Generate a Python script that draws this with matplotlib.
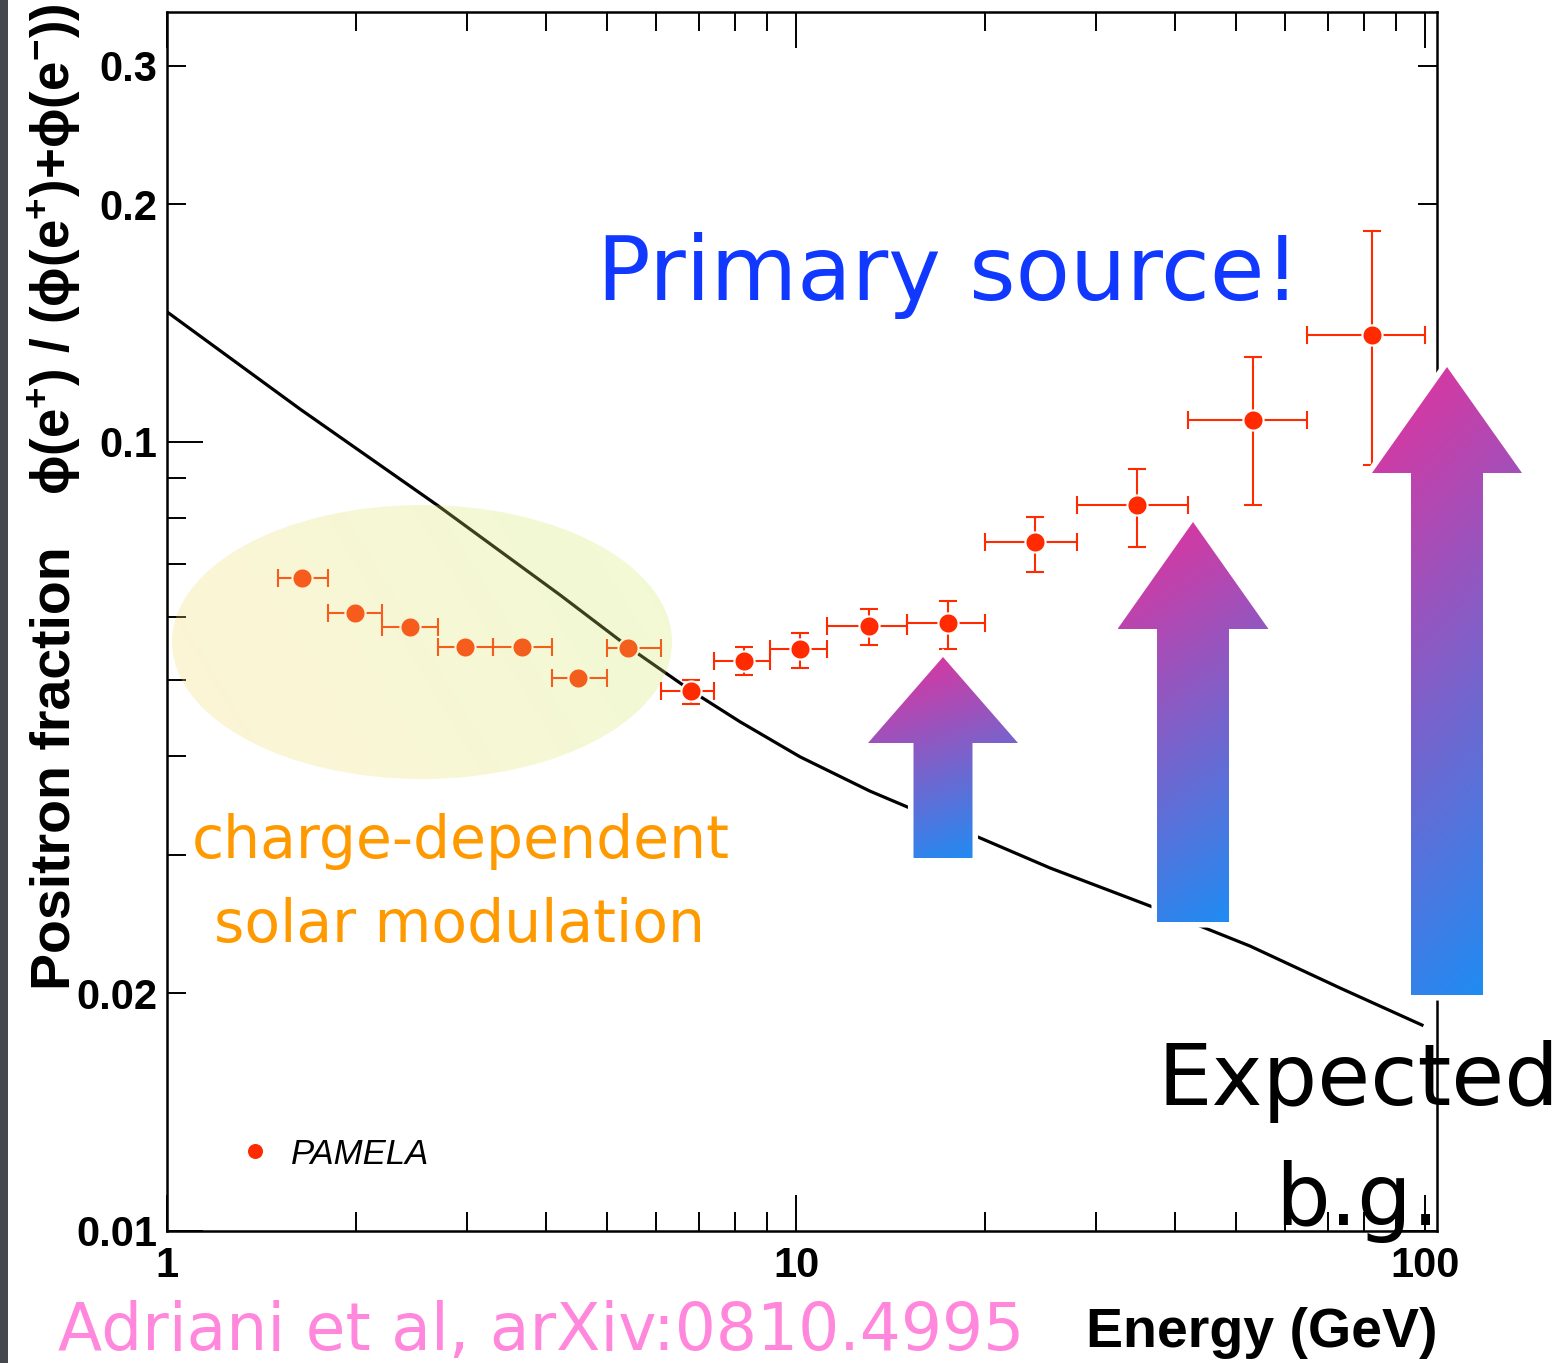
import numpy as np
import matplotlib
matplotlib.use("Agg")
import matplotlib.pyplot as plt
from matplotlib.patches import Ellipse, Polygon, Rectangle
from matplotlib.ticker import FixedLocator, FixedFormatter

# ---------------- data ----------------
energy = [1.64, 1.99, 2.43, 2.98, 3.67, 4.50, 5.41, 6.81, 8.27, 10.15,
          13.07, 17.44, 23.99, 34.85, 53.3, 82.4]
e_low = [1.5, 1.8, 2.2, 2.7, 3.3, 4.1, 5.0, 6.1, 7.4, 9.1,
         11.2, 15.0, 20.0, 28.0, 42.0, 65.0]
e_high = [1.8, 2.2, 2.7, 3.3, 4.1, 5.0, 6.1, 7.4, 9.1, 11.2,
          15.0, 20.0, 28.0, 42.0, 65.0, 100.0]
fraction = [0.0672, 0.0607, 0.0583, 0.0550, 0.0550, 0.0502, 0.0548, 0.0484,
            0.0528, 0.0547, 0.0584, 0.0590, 0.0747, 0.0832, 0.1066, 0.1367]
frac_low = [0.0668, 0.0603, 0.0579, 0.0546, 0.0546, 0.0498, 0.0544, 0.0466,
            0.0507, 0.0517, 0.0553, 0.0547, 0.0684, 0.0736, 0.0832, 0.0935]
frac_high = [0.0676, 0.0611, 0.0587, 0.0554, 0.0554, 0.0506, 0.0552, 0.0499,
             0.0550, 0.0573, 0.0614, 0.0629, 0.0803, 0.0924, 0.1282, 0.1851]

bg_energy = [1.0, 1.627, 2.687, 4.215, 5.446, 6.81, 8.147, 10.15, 13.11,
             17.57, 25.34, 36.54, 52.7, 73.3, 98.9]
bg_fraction = [0.1462, 0.1101, 0.0832, 0.0640, 0.0548, 0.0484, 0.0442,
               0.0399, 0.0361, 0.0327, 0.02885, 0.02582, 0.02297, 0.02032,
               0.01824]

x_major = [1, 10, 100]
x_major_labels = ["1", "10", "100"]
x_minor = [2, 3, 4, 5, 6, 7, 8, 9, 20, 30, 40, 50, 60, 70, 80, 90]
y_major = [0.01, 0.1]
y_major_labels = ["0.01", "0.1"]
y_minor = [0.02, 0.03, 0.04, 0.05, 0.06, 0.07, 0.08, 0.09, 0.2, 0.3]
y_minor_labels = ["0.02", "", "", "", "", "", "", "", "0.2", "0.3"]

# ---------------- figure ----------------
W, H, DPI = 1566, 1363, 100
plt.rcParams["font.family"] = ["Liberation Sans", "DejaVu Sans"]
plt.rcParams["font.weight"] = "bold"
plt.rcParams["mathtext.default"] = "regular"

fig = plt.figure(figsize=(W / DPI, H / DPI), dpi=DPI)
fig.patch.set_facecolor("white")

L, R, T, B = 167, 1437, 12, 1231
ax = fig.add_axes([L / W, 1 - B / H, (R - L) / W, (B - T) / H])
ax.set_xscale("log")
ax.set_yscale("log")
ax.set_xlim(1, 10 ** ((R - L) / 629))
ax.set_ylim(0.01, 10 ** (-2 + (B - T) / 789))

red = "#ff2a00"
xerr = [np.array(energy) - np.array(e_low), np.array(e_high) - np.array(energy)]
yerr = [np.array(fraction) - np.array(frac_low), np.array(frac_high) - np.array(fraction)]
ax.plot(bg_energy, bg_fraction, color="black", lw=2.3, zorder=2,
        solid_joinstyle="round")
ax.errorbar(energy, fraction, xerr=xerr, yerr=yerr, fmt="none", ecolor=red,
            elinewidth=1.5, capsize=6.5, capthick=1.5, zorder=3)
ax.plot(energy, fraction, "o", ms=14.5, mfc=red, mec="white", mew=1.5,
        ls="none", label="PAMELA", zorder=4)

ax.xaxis.set_major_locator(FixedLocator(x_major))
ax.xaxis.set_major_formatter(FixedFormatter(x_major_labels))
ax.xaxis.set_minor_locator(FixedLocator(x_minor))
ax.xaxis.set_minor_formatter(FixedFormatter([""] * len(x_minor)))
ax.yaxis.set_major_locator(FixedLocator(y_major))
ax.yaxis.set_major_formatter(FixedFormatter(y_major_labels))
ax.yaxis.set_minor_locator(FixedLocator(y_minor))
ax.yaxis.set_minor_formatter(FixedFormatter(y_minor_labels))

ax.tick_params(which="both", direction="in", top=True, right=True,
               width=1.4, labelsize=30, color="black")
ax.tick_params(which="major", length=26)
ax.tick_params(which="minor", length=13.5)
ax.tick_params(axis="x", which="both", pad=11)
ax.tick_params(axis="y", which="both", pad=7)
for s in ax.spines.values():
    s.set_linewidth(1.8)

leg = ax.legend(loc="center left", bbox_to_anchor=(237.5 / W, 1 - 1154 / H),
                bbox_transform=fig.transFigure, frameon=False, borderpad=0,
                borderaxespad=0, handlelength=1.0, handletextpad=0.55,
                markerscale=0.85,
                prop={"family": "Liberation Sans", "style": "italic",
                      "weight": "normal", "size": 25})

# ---------------- overlay in pixel coordinates ----------------
ov = fig.add_axes([0, 0, 1, 1], zorder=5)
ov.set_autoscale_on(False)
ov.set_xlim(0, W)
ov.set_ylim(H, 0)
ov.axis("off")
ov.patch.set_alpha(0)

# left slide border
ov.add_patch(Rectangle((0, 0), 8, H, facecolor="#46464e", edgecolor="none"))

# solar modulation ellipse with soft gradient
ex0, ex1, ey0, ey1 = 172, 672, 505, 779
gx = np.linspace(0, 1, 200)[None, :]
gy = np.linspace(0, 1, 120)[:, None]
tt = np.clip(0.75 * gx + 0.25 * (1 - gy), 0, 1)
c_left = np.array([0.97, 0.85, 0.42])
c_right = np.array([0.80, 0.93, 0.40])
img = np.zeros((120, 200, 4))
for k in range(3):
    img[..., k] = c_left[k] + (c_right[k] - c_left[k]) * tt
img[..., 3] = 0.28
ell = Ellipse(((ex0 + ex1) / 2, (ey0 + ey1) / 2), ex1 - ex0, ey1 - ey0,
              transform=ov.transData)
im = ov.imshow(img, extent=(ex0, ex1, ey1, ey0), aspect="auto",
               interpolation="bilinear", zorder=1)
im.set_clip_path(ell)

# gradient arrows
c_top = np.array([232, 48, 155]) / 255
c_bot = np.array([20, 145, 248]) / 255
arrows = [  # tip_x, tip_y, head_base_y, head_half, body_half, bottom
    (943, 657, 743, 75, 29.5, 858),
    (1193, 522, 629, 75.5, 36, 922),
    (1447, 367, 473, 75, 36, 995),
]
for (tx, ty, hb, hh, bh, bot) in arrows:
    pts = [(tx, ty), (tx + hh, hb), (tx + bh, hb), (tx + bh, bot),
           (tx - bh, bot), (tx - bh, hb), (tx - hh, hb)]
    halo = Polygon(pts, closed=True, facecolor="white", edgecolor="white",
                   lw=8, joinstyle="miter", zorder=2)
    ov.add_patch(halo)
    n_y, n_x = 300, 100
    u = np.linspace(0, 1, n_x)[None, :]
    v = np.linspace(0, 1, n_y)[:, None]
    t = np.clip(0.8 * v + 0.2 * u, 0, 1)
    g = np.zeros((n_y, n_x, 3))
    for k in range(3):
        g[..., k] = c_top[k] + (c_bot[k] - c_top[k]) * t
    clip = Polygon(pts, closed=True, transform=ov.transData)
    gi = ov.imshow(g, extent=(tx - hh, tx + hh, bot, ty), aspect="auto",
                   interpolation="bilinear", zorder=3)
    gi.set_clip_path(clip)

ov.set_xlim(0, W)
ov.set_ylim(H, 0)

# texts
hand = dict(family="DejaVu Sans", weight="normal")
ov.text(597, 300, "Primary source!", color="#1038ff", fontsize=64,
        ha="left", va="baseline", zorder=6, **hand)
ov.text(461, 858, "charge-dependent", color="#ff9900", fontsize=42,
        ha="center", va="baseline", zorder=6, **hand)
ov.text(459, 942, "solar modulation", color="#ff9900", fontsize=42,
        ha="center", va="baseline", zorder=6, **hand)
ov.text(1158, 1105, "Expected", color="black", fontsize=62,
        ha="left", va="baseline", zorder=6, **hand)
ov.text(1357, 1225, "b.g.", color="black", fontsize=62,
        ha="center", va="baseline", zorder=6, **hand)
ov.text(58, 1350, "Adriani et al, arXiv:0810.4995", color="#ff88dd",
        fontsize=46.5, ha="left", va="baseline", zorder=6, **hand)

ov.text(1437, 1347, "Energy (GeV)", fontsize=40, weight="bold",
        ha="right", va="baseline", zorder=6)
ov.text(70, 990, "Positron fraction", fontsize=40, weight="bold",
        rotation=90, rotation_mode="anchor", ha="left", va="baseline",
        zorder=6)
ov.text(70, 495, r"ϕ(e$^{+}$) / (ϕ(e$^{+}$)+ϕ(e$^{-}$))",
        fontsize=38, weight="bold", rotation=90, rotation_mode="anchor",
        ha="left", va="baseline", zorder=6)

fig.savefig("out.png", dpi=DPI, facecolor="white")
